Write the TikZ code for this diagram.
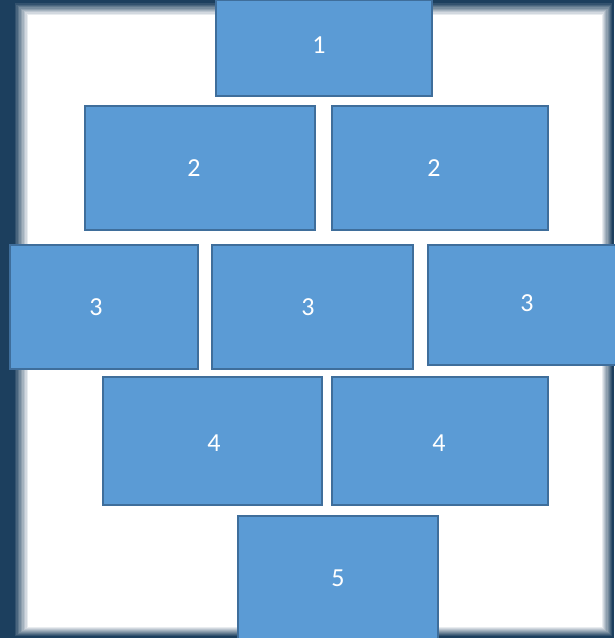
\documentclass[tikz,border=0pt]{standalone}
\usepackage{fontspec}
\setmainfont{Carlito}
\begin{document}
\begin{tikzpicture}[x=1pt,y=-1pt,
  blk/.style={draw=blkline,fill=blkfill,line width=1.6pt},
  lbl/.style={text=white,font=\fontsize{26}{26}\selectfont}]
\definecolor{blkfill}{HTML}{5B9BD5}
\definecolor{blkline}{HTML}{3F6E9B}
\definecolor{frame}{HTML}{1C3F5E}
\useasboundingbox (0,0) rectangle (614,638);
% dark frame with soft inner edge
\fill[frame] (0,0) rectangle (614,638);
\foreach \i in {1,...,10}{
  \pgfmathsetmacro{\pct}{\i*10}
  \fill[white!\pct!frame] (13+1.5*\i,2+1.3*\i) rectangle (613-1.1*\i,637-1.0*\i);
}
% blocks
\node[blk,minimum width=216pt,minimum height=96pt] (b1) at (324,48) {};
\node[blk,minimum width=230pt,minimum height=124pt] (b2a) at (200,168) {};
\node[blk,minimum width=216pt,minimum height=124pt] (b2b) at (440,168) {};
\node[blk,minimum width=188pt,minimum height=124pt] (b3a) at (104,307) {};
\node[blk,minimum width=201pt,minimum height=124pt] (b3b) at (312.5,307) {};
\node[blk,minimum width=190pt,minimum height=120pt] (b3c) at (523,305) {};
\node[blk,minimum width=219pt,minimum height=128pt] (b4a) at (212.5,441) {};
\node[blk,minimum width=216pt,minimum height=128pt] (b4b) at (440,441) {};
\node[blk,minimum width=200pt,minimum height=124pt] (b5) at (338,578) {};
% labels
\node[lbl] (t1) at (319,45) {1};
\node[lbl] (t2a) at (194,168) {2};
\node[lbl] (t2b) at (434,168) {2};
\node[lbl] (t3a) at (96,307) {3};
\node[lbl] (t3b) at (308,307) {3};
\node[lbl] (t3c) at (527,303) {3};
\node[lbl] (t4a) at (214,443) {4};
\node[lbl] (t4b) at (439,443) {4};
\node[lbl] (t5) at (338,578) {5};
\end{tikzpicture}
\end{document}
